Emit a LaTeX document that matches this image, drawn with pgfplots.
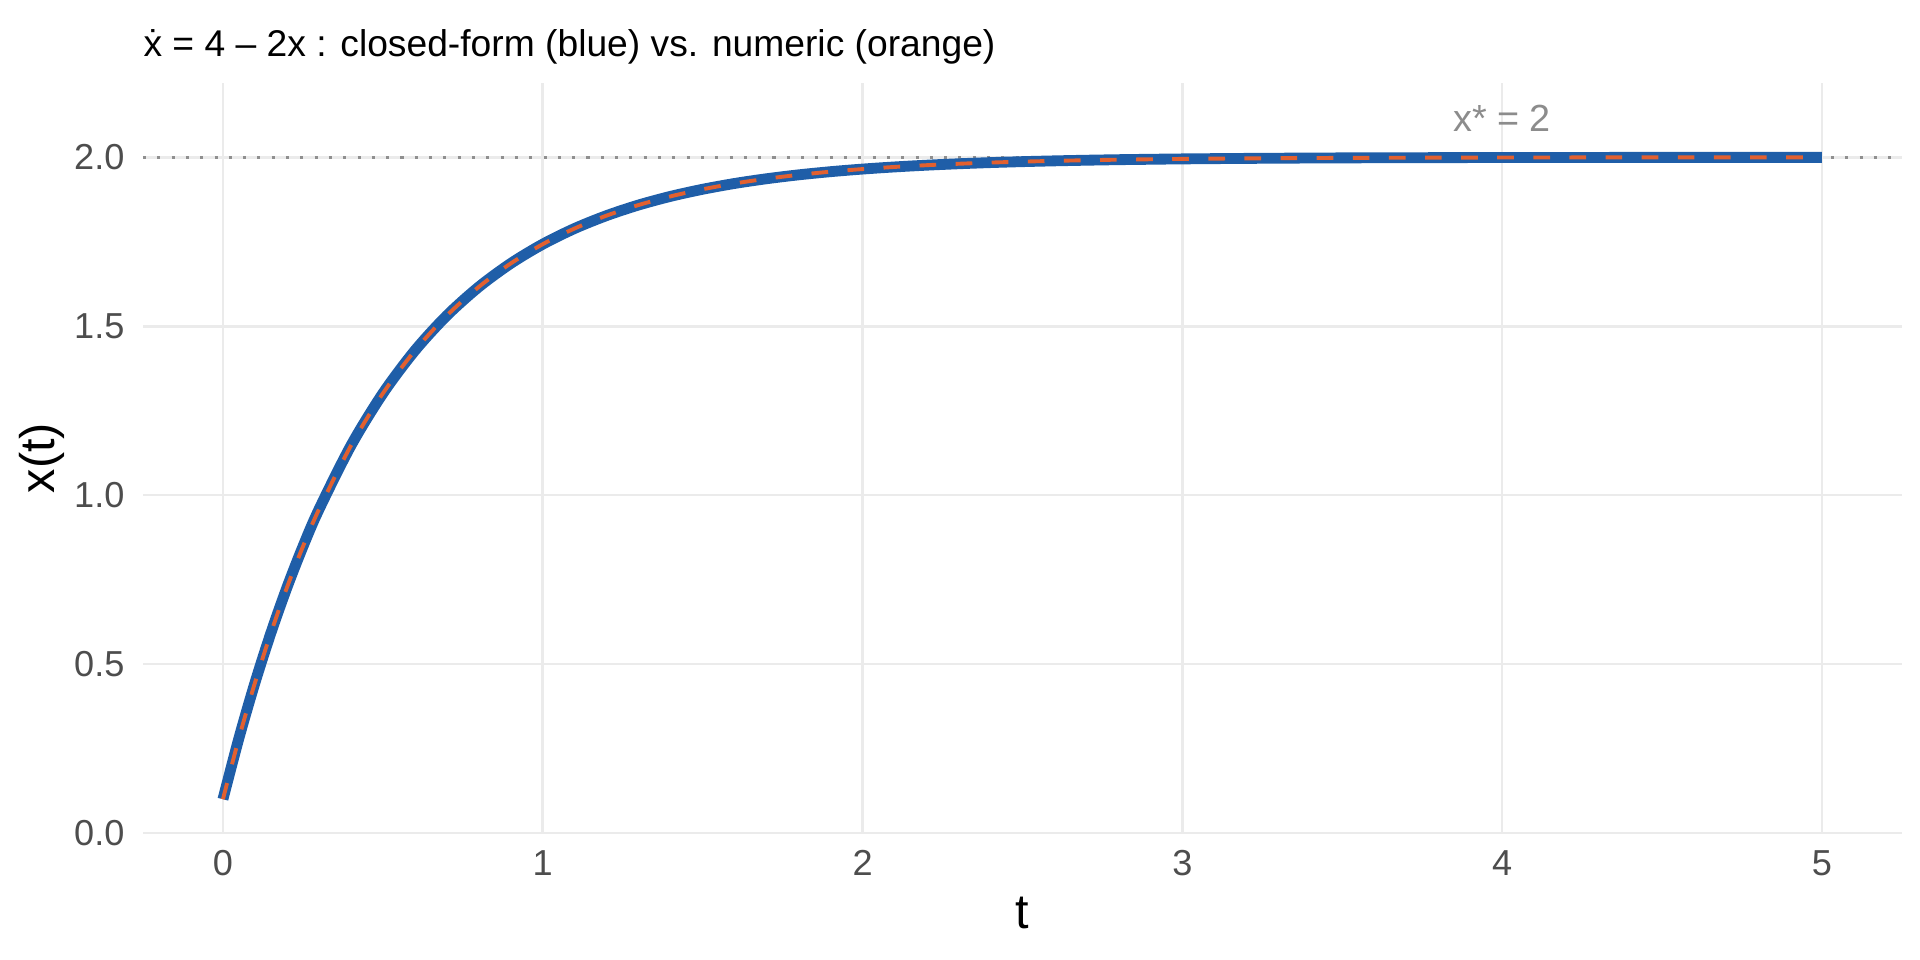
\documentclass[border=0pt]{standalone}
\usepackage{fontspec}
\setmainfont{Liberation Sans}
\usepackage{pgfplots}
\pgfplotsset{compat=1.18}

\definecolor{lineblue}{HTML}{1F5EA8}
\definecolor{lineorange}{HTML}{E2602F}
\definecolor{gridgrey}{HTML}{EBEBEB}
\definecolor{tickgrey}{HTML}{4D4D4D}
\definecolor{refgrey}{HTML}{8C8C8C}
\definecolor{dotgrey}{HTML}{8F8F8F}

% closed form x(t) = 2 - 1.9 exp(-2t)
\pgfplotstableread{
t x
0.00 0.1000
0.05 0.2808
0.10 0.4444
0.15 0.5924
0.20 0.7264
0.25 0.8476
0.30 0.9573
0.40 1.1463
0.50 1.3010
0.60 1.4277
0.70 1.5315
0.80 1.6164
0.90 1.6859
1.00 1.7429
1.10 1.7895
1.20 1.8276
1.30 1.8589
1.40 1.8845
1.50 1.9054
1.60 1.9226
1.70 1.9366
1.80 1.9481
1.90 1.9575
2.00 1.9652
2.10 1.9715
2.20 1.9767
2.30 1.9809
2.40 1.9844
2.50 1.9872
2.60 1.9895
2.70 1.9914
2.80 1.9930
2.90 1.9942
3.00 1.9953
3.20 1.9968
3.50 1.9983
4.00 1.9994
4.50 1.9998
5.00 1.9999
}\closedform

\begin{document}
\begin{tikzpicture}[font=\fontsize{13}{15}\selectfont]
    \path[use as bounding box] (-51.48pt,-45.72pt) rectangle (639.72pt,299.88pt);
    \begin{axis}[
            at={(0,0)}, anchor=south west,
            scale only axis,
            width=633.2pt, height=270pt,
            %
            xmin=-0.25, xmax=5.25,
            ymin=0, ymax=2.22,
            xtick={0,1,2,3,4,5},
            ytick={0,0.5,1,1.5,2},
            yticklabel style={/pgf/number format/.cd, fixed, fixed zerofill, precision=1},
            /pgf/number format/assume math mode=true,
            %
            axis line style={draw=none},
            major tick length=0pt,
            grid=major,
            major grid style={gridgrey, line width=0.95pt},
            tick label style={tickgrey, font=\fontsize{13}{15}\selectfont, inner sep=0pt},
            xticklabel shift=6pt,
            yticklabel shift=6.5pt,
            clip=false,
        ]

        \addplot[dotgrey, line width=1.1pt, dash pattern=on 1.1pt off 4.05pt] coordinates {(-0.25,2) (5.25,2)};

        \addplot[lineblue, line width=3.9pt, smooth] table[x=t, y=x] {\closedform};

        \addplot[lineorange, line width=1.4pt, smooth, dash pattern=on 6pt off 7pt] table[x=t, y=x] {\closedform};

        \node[refgrey, font=\fontsize{13.6}{15}\selectfont] at (axis cs:4,2.115) {x* = 2};
    \end{axis}
    \node[font=\fontsize{17.5}{20}\selectfont] at (316.6pt,-28.8pt) {t};
    \node[rotate=90, font=\fontsize{17.5}{20}\selectfont] at (-36.4pt,135pt) {x(t)};
    \node[anchor=base west, inner sep=0pt, font=\fontsize{13.4}{15}\selectfont] at (0,279.7pt)
        {ẋ = 4 – 2x : closed-form (blue) vs. numeric (orange)};
\end{tikzpicture}
\end{document}
